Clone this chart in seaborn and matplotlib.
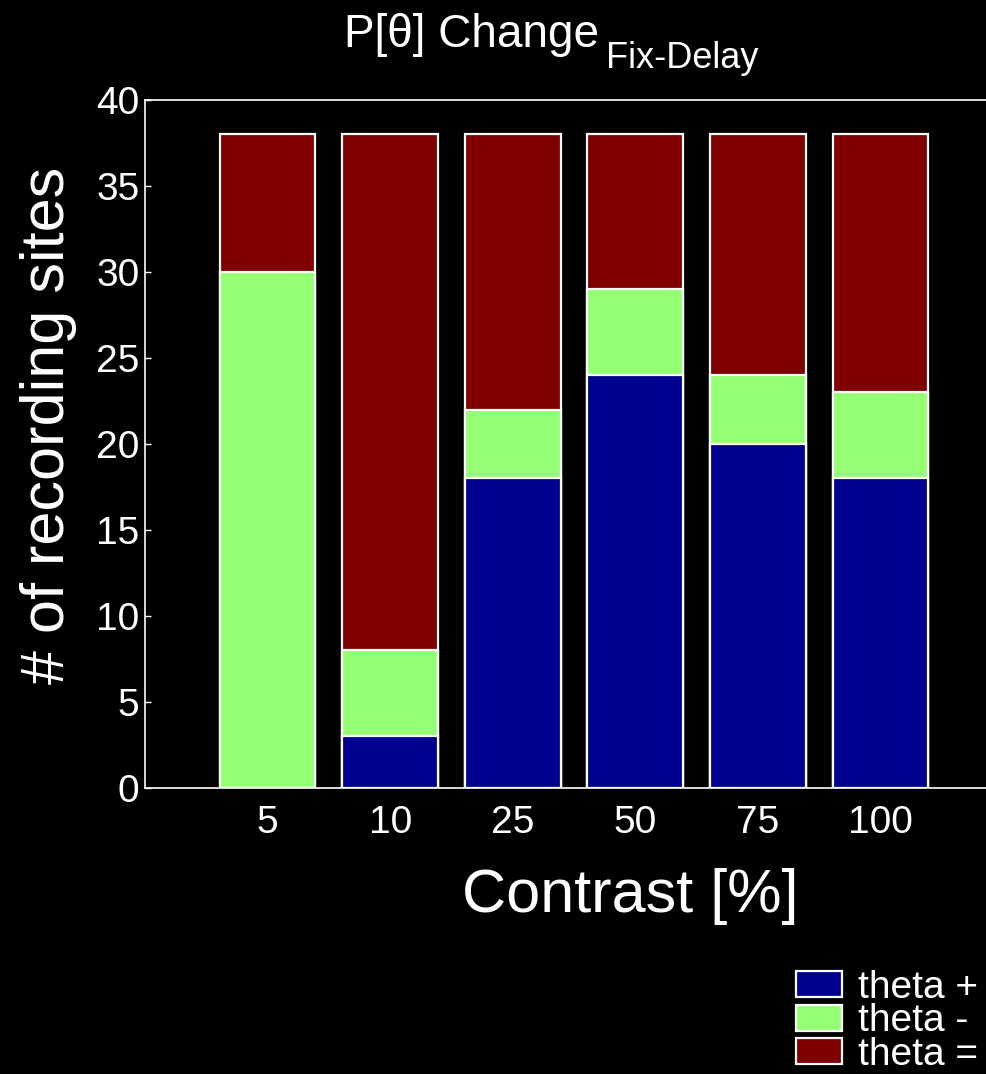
import matplotlib
matplotlib.use("Agg")
import matplotlib.pyplot as plt
import seaborn as sns
import numpy as np

# ---- data ----
contrast = ["5", "10", "25", "50", "75", "100"]
theta_plus = [0, 3, 18, 24, 20, 18]
theta_minus = [30, 5, 4, 5, 4, 5]
theta_equal = [8, 30, 16, 9, 14, 15]
series_labels = ["theta +", "theta -", "theta ="]
series_colors = ["#00008F", "#94FF72", "#800000"]
yticks = [0, 5, 10, 15, 20, 25, 30, 35, 40]

plt.rcParams["font.family"] = ["Liberation Sans", "DejaVu Sans"]

W, H = 987, 1074
fig = plt.figure(figsize=(W / 100, H / 100), dpi=100, facecolor="black")
ax = fig.add_axes([145 / W, 1 - 788 / H, 858 / W, 688 / H])
ax.set_facecolor("black")

p = np.array(theta_plus)
m = np.array(theta_minus)
e = np.array(theta_equal)
stack_tops = [p + m + e, p + m, p]  # drawn back to front
draw_labels = [series_labels[2], series_labels[1], series_labels[0]]
draw_colors = [series_colors[2], series_colors[1], series_colors[0]]

handles = {}
for tops, lab, col in zip(stack_tops, draw_labels, draw_colors):
    sns.barplot(x=contrast, y=tops, order=contrast, color=col, saturation=1,
                width=0.78, edgecolor="white", linewidth=1.6, errorbar=None,
                ax=ax, label=lab)
    handles[lab] = ax.containers[-1]
if ax.get_legend() is not None:
    ax.get_legend().remove()

ax.set_xlim(-1, 6)
ax.set_ylim(0, 40)
ax.set_yticks(yticks)

for side in ["left", "top", "bottom", "right"]:
    ax.spines[side].set_color("white")
    ax.spines[side].set_linewidth(1.2)

ax.tick_params(axis="y", direction="in", length=4.5, width=1, color="white",
               labelcolor="white", labelsize=28, pad=4, right=True)
ax.tick_params(axis="x", length=0, labelcolor="white", labelsize=28, pad=12)

ax.set_xlabel("Contrast [%]", fontsize=44, color="white", va="center")
ax.xaxis.set_label_coords(0.565, -0.157)
ax.set_ylabel("# of recording sites", fontsize=44, color="white", va="center")
ax.yaxis.set_label_coords(-0.113, 0.5276)

ttl = fig.text(344 / W, 1 - 47 / H, "P[θ] Change", ha="left", va="baseline",
               fontsize=33, color="white")
ax.annotate("Fix-Delay", xy=(1, H - 68), xycoords=(ttl, "figure pixels"),
            xytext=(7, 0), textcoords="offset pixels", ha="left", va="baseline",
            fontsize=26, color="white", annotation_clip=False)

leg = fig.legend([handles[l] for l in series_labels], series_labels,
                 loc="upper left", bbox_to_anchor=(796 / W, 1 - 970 / H),
                 frameon=False, fontsize=28, labelcolor="white",
                 borderpad=0, borderaxespad=0, labelspacing=-0.065,
                 handlelength=1.18, handleheight=0.64, handletextpad=0.41)

fig.savefig("out.png", dpi=100, facecolor="black")
